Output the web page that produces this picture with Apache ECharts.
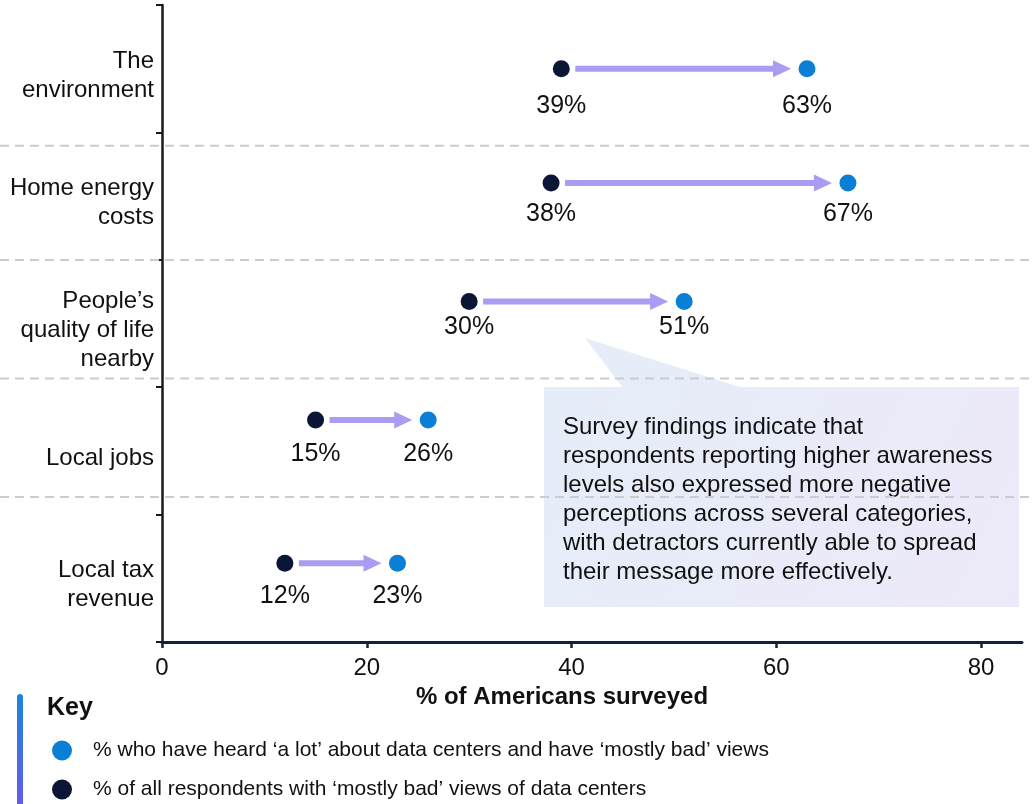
<!DOCTYPE html>
<html>
<head>
<meta charset="utf-8">
<title>Perceptions of data centers</title>
<script src="https://cdn.jsdelivr.net/npm/echarts@6/dist/echarts.min.js"></script>
<style>
  html, body { margin: 0; padding: 0; background: #ffffff; }
  #chart { width: 1032px; height: 804px; }
</style>
</head>
<body>
<div id="chart"></div>
<script>
// Topics asked about, top to bottom
const categories = [
  'The\nenvironment',
  'Home energy\ncosts',
  'People\u2019s\nquality of life\nnearby',
  'Local jobs',
  'Local tax\nrevenue'
];
// % of all respondents with 'mostly bad' views
const allRespondents = [39, 38, 30, 15, 12];
// % who have heard 'a lot' and have 'mostly bad' views
const heardALot = [63, 67, 51, 26, 23];
// x axis ticks
const xTicks = [0, 20, 40, 60, 80];

const nameAll = '% of all respondents with \u2018mostly bad\u2019 views of data centers';
const nameHeard = '% who have heard \u2018a lot\u2019 about data centers and have \u2018mostly bad\u2019 views';

// Layout: vertical nudge of each row's marks within its band, and gap under each dot for its label
const rowNudge = [0, -13, -22, -31, -15];
const labelGap = [16, 10, 5, 13, 12];

const FONT = '"Liberation Sans", Arial, Helvetica, sans-serif';
const NAVY = '#0b1535';
const BLUE = '#0a7fd5';
const ARROW = '#a99cf2';

const chart = echarts.init(document.getElementById('chart'), null, { renderer: 'canvas' });

function dotSeries(name, values, color) {
  return {
    name: name,
    type: 'scatter',
    z: 5,
    symbol: 'circle',
    symbolSize: 17,
    itemStyle: { color: color, opacity: 1 },
    data: values.map((v, i) => ({
      value: [v, i],
      symbolOffset: [0, rowNudge[i]],
      label: { distance: labelGap[i] }
    })),
    label: {
      show: true,
      position: 'bottom',
      formatter: p => p.value[0] + '%',
      fontFamily: FONT,
      fontSize: 25,
      color: '#111111'
    },
    emphasis: { disabled: true }
  };
}

const option = {
  animation: false,
  textStyle: { fontFamily: FONT },
  grid: { left: 162, right: 10, top: 5, bottom: 162, containLabel: false },
  xAxis: {
    type: 'value',
    min: 0,
    max: 84,
    name: '% of Americans surveyed',
    nameLocation: 'middle',
    nameGap: 40,
    nameTextStyle: {
      fontFamily: FONT, fontSize: 24, fontWeight: 'bold', color: '#111111',
      padding: [0, 60, 0, 0]
    },
    axisLine: { show: true, lineStyle: { color: '#14213d', width: 3 } },
    axisTick: { show: true, length: 6, customValues: xTicks, lineStyle: { color: '#14213d', width: 2.5 } },
    axisLabel: {
      customValues: xTicks,
      margin: 14, fontFamily: FONT, fontSize: 24, color: '#111111'
    },
    splitLine: { show: false }
  },
  yAxis: {
    type: 'category',
    inverse: true,
    data: categories,
    axisLine: { show: true, lineStyle: { color: '#1a1a1a', width: 2.5 } },
    axisTick: { show: true, length: 6, lineStyle: { color: '#1a1a1a', width: 2 } },
    axisLabel: {
      margin: 8, fontFamily: FONT, fontSize: 24, lineHeight: 29,
      color: '#111111',
      // a thin spacer line on top lowers each label slightly within its band
      formatter: v => '{sp|}\n' + v,
      rich: { sp: { height: 14, lineHeight: 14 } }
    },
    splitLine: { show: false }
  },
  legend: {
    data: [
      { name: nameHeard, icon: 'circle' },
      { name: nameAll, icon: 'circle' }
    ],
    orient: 'vertical',
    left: 52,
    top: 740,
    padding: 0,
    itemWidth: 20,
    itemHeight: 20,
    itemGap: 18,
    selectedMode: false,
    textStyle: { fontFamily: FONT, fontSize: 21, color: '#111111', padding: [0, 0, 0, 16] }
  },
  graphic: [
    // callout box with pointer
    {
      type: 'group',
      z: 20,
      children: [
        {
          type: 'polygon',
          shape: { points: [[585, 338], [623, 388], [743, 388]] },
          style: { fill: '#e6edf9' }
        },
        {
          type: 'rect',
          shape: { x: 544, y: 387, width: 475, height: 220 },
          style: {
            fill: new echarts.graphic.LinearGradient(0, 0, 1, 1, [
              { offset: 0, color: '#e5edf9' },
              { offset: 1, color: '#ede9f8' }
            ])
          }
        },
        {
          type: 'text',
          style: {
            x: 563, y: 413,
            text: 'Survey findings indicate that\nrespondents reporting higher awareness\nlevels also expressed more negative\nperceptions across several categories,\nwith detractors currently able to spread\ntheir message more effectively.',
            font: '24px ' + FONT,
            lineHeight: 29,
            fill: '#111111',
            verticalAlign: 'top'
          }
        }
      ]
    },
    // key heading with accent bar
    {
      type: 'rect',
      shape: { x: 17, y: 694, width: 6, height: 120, r: [3, 3, 0, 0] },
      style: {
        fill: new echarts.graphic.LinearGradient(0, 0, 0, 1, [
          { offset: 0, color: '#1a86dc' },
          { offset: 1, color: '#6a57ee' }
        ])
      }
    },
    {
      type: 'text',
      style: {
        x: 47, y: 708, text: 'Key',
        font: 'bold 25px ' + FONT, fill: '#111111', verticalAlign: 'middle'
      }
    }
  ],
  series: [
    {
      // change arrows between the two groups, plus row separators
      type: 'custom',
      z: 2,
      silent: true,
      clip: false,
      encode: { x: [0, 1], y: 2 },
      data: categories.map((c, i) => [allRespondents[i], heardALot[i], i]),
      renderItem: function (params, api) {
        const i = api.value(2);
        const a = api.coord([api.value(0), i]);
        const b = api.coord([api.value(1), i]);
        const y = a[1] + rowNudge[i];
        const x0 = a[0] + 14;
        const tip = b[0] - 16;
        const headLen = 18, headHalf = 8.5;
        const children = [
          {
            type: 'line',
            shape: { x1: x0, y1: y, x2: tip - headLen + 1, y2: y },
            style: { stroke: ARROW, lineWidth: 6 }
          },
          {
            type: 'polygon',
            shape: { points: [[tip - headLen, y - headHalf], [tip, y], [tip - headLen, y + headHalf]] },
            style: { fill: ARROW }
          }
        ];
        if (i < categories.length - 1) {
          children.push({
            type: 'line',
            z2: -1,
            shape: { x1: 0, y1: y + 77, x2: api.getWidth(), y2: y + 77 },
            style: { stroke: '#c9ccd3', lineWidth: 2, lineDash: [9, 6] }
          });
        }
        return { type: 'group', children: children };
      }
    },
    dotSeries(nameAll, allRespondents, NAVY),
    dotSeries(nameHeard, heardALot, BLUE)
  ]
};

chart.setOption(option);
</script>
</body>
</html>
